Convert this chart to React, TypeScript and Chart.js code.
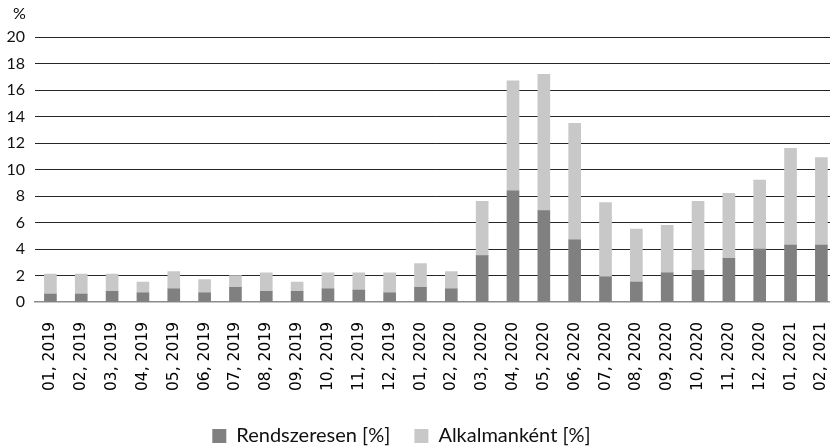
import React, { useEffect, useRef } from "react";
import { Chart, registerables } from "chart.js";

Chart.register(...registerables);

const categories = [
  "01, 2019", "02, 2019", "03, 2019", "04, 2019", "05, 2019", "06, 2019",
  "07, 2019", "08, 2019", "09, 2019", "10, 2019", "11, 2019", "12, 2019",
  "01, 2020", "02, 2020", "03, 2020", "04, 2020", "05, 2020", "06, 2020",
  "07, 2020", "08, 2020", "09, 2020", "10, 2020", "11, 2020", "12, 2020",
  "01, 2021", "02, 2021",
];

const rendszeresen = [
  0.6, 0.6, 0.8, 0.7, 1.0, 0.7, 1.1, 0.8, 0.8, 1.0, 0.9, 0.7, 1.1, 1.0, 3.5,
  8.4, 6.9, 4.7, 1.9, 1.5, 2.2, 2.4, 3.3, 4.0, 4.3, 4.3,
];

const alkalmankent = [
  1.5, 1.5, 1.3, 0.8, 1.3, 1.0, 0.9, 1.4, 0.7, 1.2, 1.3, 1.5, 1.8, 1.3, 4.1,
  8.3, 10.3, 8.8, 5.6, 4.0, 3.6, 5.2, 4.9, 5.2, 7.3, 6.6,
];

const yTicks = [0, 2, 4, 6, 8, 10, 12, 14, 16, 18, 20];

const blockShift = {
  id: "blockShift",
  afterLayout(chart: any) {
    const lg = chart.legend;
    if (lg) {
      lg.left -= 24;
      lg.right -= 24;
    }
    const tb = chart.titleBlock;
    if (tb) {
      tb.left += 13;
      tb.right += 13;
    }
  },
};

export default function App() {
  const ref = useRef<HTMLCanvasElement | null>(null);

  useEffect(() => {
    if (!ref.current) return;
    const chart = new Chart(ref.current, {
      type: "bar",
      data: {
        labels: categories,
        datasets: [
          {
            label: "Rendszeresen [%]",
            data: rendszeresen,
            backgroundColor: "#808080",
            borderWidth: 0,
            barThickness: 12,
          },
          {
            label: "Alkalmanként [%]",
            data: alkalmankent,
            backgroundColor: "#c8c8c8",
            borderWidth: 0,
            barThickness: 12,
          },
        ],
      },
      options: {
        responsive: false,
        animation: false,
        devicePixelRatio: 1,
        layout: { padding: { left: 0, right: 1, top: 0, bottom: 0 } },
        plugins: {
          tooltip: { enabled: false },
          title: {
            display: true,
            text: "%",
            align: "start",
            color: "#000",
            font: { family: "Lato", size: 16, weight: "normal" },
            padding: { top: 4, bottom: 14 },
          },
          legend: {
            position: "bottom",
            labels: {
              boxWidth: 14,
              boxHeight: 14,
              padding: 24,
              color: "#111",
              font: { family: "Lato", size: 20 },
            },
          },
        },
        scales: {
          x: {
            stacked: true,
            grid: { display: false },
            border: { display: true, color: "#8c8c8c", width: 1.5 },
            ticks: {
              minRotation: 90,
              maxRotation: 90,
              autoSkip: false,
              padding: 12,
              color: "#000",
              font: { family: "DejaVu Sans", size: 15.5 },
            },
            afterFit(scale: any) {
              scale.height = 100;
            },
          },
          y: {
            stacked: true,
            min: 0,
            max: 20,
            afterBuildTicks(scale: any) {
              scale.ticks = yTicks.map((v) => ({ value: v }));
            },
            grid: {
              drawTicks: false,
              color: (ctx: any) =>
                ctx.tick && ctx.tick.value === 0 ? "rgba(0,0,0,0)" : "rgba(0,0,0,0.85)",
              lineWidth: 1,
            },
            border: { display: false },
            ticks: {
              padding: 10,
              color: "#111",
              font: { family: "Lato", size: 16 },
            },
            afterFit(scale: any) {
              scale.width = 35;
            },
          },
        },
      },
      plugins: [blockShift],
    });
    return () => chart.destroy();
  }, []);

  return (
    <div
      style={{
        position: "absolute",
        left: 0,
        top: 0,
        width: 830,
        height: 446,
        overflow: "hidden",
        background: "#fff",
      }}
    >
      <canvas ref={ref} width={852} height={456} style={{ display: "block" }} />
    </div>
  );
}
